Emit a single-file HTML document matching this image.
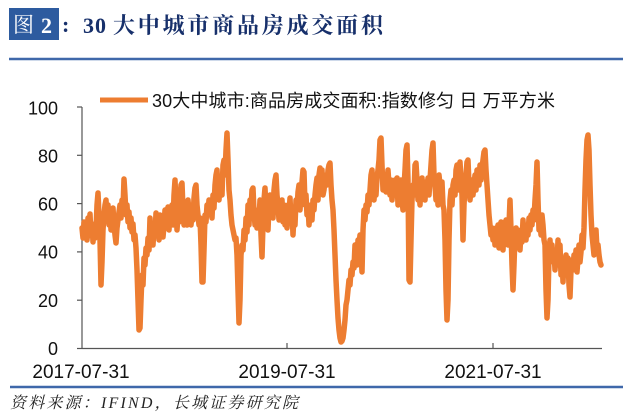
<!DOCTYPE html>
<html><head><meta charset="utf-8"><style>
html,body{margin:0;padding:0;background:#fff;}
body{width:640px;height:417px;overflow:hidden;}
svg{display:block;}
</style></head><body>
<svg width="640" height="417" viewBox="0 0 640 417" xmlns="http://www.w3.org/2000/svg">
<rect x="0" y="0" width="640" height="417" fill="#fff"/>
<!-- title -->
<rect x="9" y="8" width="50" height="32" fill="#2d5b9f"/>
<text x="13" y="32" font-family="'Liberation Serif','Noto Serif CJK SC',serif" font-size="21" fill="#fff">图</text>
<text x="41" y="33" font-family="'Liberation Serif',serif" font-size="22" font-weight="bold" fill="#fff">2</text>
<text x="62" y="32" font-family="'Liberation Serif',serif" font-size="22" font-weight="bold" fill="#17306b">:</text>
<text x="83" y="33" font-family="'Liberation Serif',serif" font-size="22" font-weight="bold" fill="#17306b" letter-spacing="1">30</text>
<text x="113" y="33" font-family="'Liberation Serif','Noto Serif CJK SC',serif" font-size="22" font-weight="bold" fill="#17306b" textLength="270" lengthAdjust="spacing">大中城市商品房成交面积</text>
<line x1="9" y1="59" x2="623" y2="59" stroke="#3f68aa" stroke-width="2.5"/>
<!-- legend -->
<line x1="100" y1="100" x2="148" y2="100" stroke="#ed7d31" stroke-width="5"/>
<text x="152" y="107" font-family="'Liberation Sans','Noto Sans CJK SC',sans-serif" font-size="18" fill="#111" textLength="403" lengthAdjust="spacing">30大中城市:商品房成交面积:指数修匀 日 万平方米</text>
<!-- axes -->
<g stroke="#555" stroke-width="1.2" fill="none">
<line x1="82" y1="107" x2="82" y2="348.5"/>
<line x1="82" y1="348.5" x2="602" y2="348.5"/>
<line x1="77" y1="107" x2="82" y2="107"/>
<line x1="77" y1="155.3" x2="82" y2="155.3"/>
<line x1="77" y1="203.6" x2="82" y2="203.6"/>
<line x1="77" y1="251.9" x2="82" y2="251.9"/>
<line x1="77" y1="300.2" x2="82" y2="300.2"/>
<line x1="77" y1="348.5" x2="82" y2="348.5"/>
<line x1="287" y1="343" x2="287" y2="348.5"/>
<line x1="493" y1="343" x2="493" y2="348.5"/>
</g>
<g font-family="'Liberation Sans',sans-serif" font-size="18" fill="#111" text-anchor="end">
<text x="58" y="114.5">100</text>
<text x="58" y="162.5">80</text>
<text x="58" y="210.5">60</text>
<text x="58" y="258.5">40</text>
<text x="58" y="307">20</text>
<text x="58" y="355">0</text>
</g>
<g font-family="'Liberation Sans',sans-serif" font-size="19" fill="#111" text-anchor="middle">
<text x="81" y="378">2017-07-31</text>
<text x="287" y="378">2019-07-31</text>
<text x="493" y="378">2021-07-31</text>
</g>
<!-- series -->
<polyline fill="none" stroke="#ed7d31" stroke-width="5.5" stroke-linejoin="round" stroke-linecap="round" points="82,228 83,238 84,222 85,235 86,226 87,240 88,218 89,232 90,214 91,236 92,224 93,242 94,225 95,238 96,230 97,205 98,193 99,215 100,240 101,285 102,262 103,230 104,215 105,205 106,200 107,218 108,205 109,225 110,210 111,230 112,212 113,208 114,225 115,235 116,243 117,228 118,220 119,212 120,205 121,218 122,200 123,210 124,179 125,195 126,215 127,205 128,222 129,212 130,228 131,218 132,232 133,224 134,240 135,235 136,248 137,270 138,300 139,330 140,328 141,300 142,275 143,285 144,258 145,265 146,248 147,255 148,238 149,250 150,218 151,240 152,232 153,245 154,228 155,235 156,213 157,230 158,222 159,240 160,215 161,232 162,222 163,237 164,226 165,210 166,225 167,218 168,207 169,230 170,212 171,220 172,205 173,225 174,195 175,180 176,205 177,230 178,215 179,222 180,200 181,185 182,183 183,210 184,225 185,205 186,218 187,225 188,200 189,212 190,205 191,225 192,215 193,220 194,198 195,188 196,185 197,205 198,215 199,225 200,218 201,245 202,282 203,282 204,250 205,215 206,222 207,205 208,212 209,200 210,215 211,205 212,218 213,195 214,208 215,185 216,175 217,170 218,190 219,200 220,185 221,178 222,195 223,165 224,160 225,175 226,150 227,133 228,160 229,190 230,200 231,215 232,225 233,230 234,235 235,240 236,238 237,255 238,290 239,323 240,300 241,255 242,245 243,250 244,230 245,240 246,218 247,232 248,205 249,225 250,200 251,210 252,190 253,188 254,212 255,225 256,215 257,228 258,210 259,220 260,200 261,235 262,257 263,225 264,200 265,188 266,210 267,215 268,230 269,205 270,195 271,215 272,205 273,218 274,190 275,180 276,175 277,195 278,205 279,220 280,208 281,215 282,200 283,222 284,205 285,225 286,210 287,228 288,205 289,215 290,198 291,220 292,210 293,235 294,215 295,225 296,200 297,210 298,192 299,185 300,210 301,195 302,182 303,170 304,172 305,205 306,195 307,215 308,205 309,225 310,215 311,205 312,220 313,200 314,210 315,195 316,185 317,178 318,200 319,175 320,168 321,185 322,170 323,195 324,190 325,180 326,175 327,185 328,170 329,165 330,163 331,185 332,200 333,210 334,230 335,255 336,280 337,300 338,318 339,330 340,338 341,342 342,341 343,338 344,330 345,320 346,305 347,300 348,290 349,280 350,285 351,270 352,275 353,262 354,268 355,245 356,250 357,265 358,240 359,245 360,235 361,250 362,272 363,230 364,210 365,220 366,205 367,212 368,195 369,205 370,190 371,175 372,170 373,190 374,200 375,185 376,195 377,178 378,170 379,160 380,140 381,138 382,165 383,190 384,180 385,175 386,192 387,182 388,170 389,185 390,195 391,180 392,200 393,188 394,195 395,180 396,190 397,178 398,205 399,195 400,182 401,180 402,200 403,210 404,188 405,170 406,150 407,145 408,180 409,280 410,282 411,240 412,200 413,185 414,195 415,165 416,163 417,180 418,200 419,190 420,205 421,185 422,178 423,195 424,185 425,200 426,182 427,190 428,178 429,195 430,180 431,165 432,150 433,143 434,175 435,185 436,200 437,190 438,205 439,175 440,185 441,195 442,182 443,205 444,210 445,240 446,290 447,320 448,300 449,240 450,200 451,190 452,205 453,185 454,180 455,195 456,170 457,165 458,190 459,175 460,162 461,180 462,195 463,240 464,205 465,185 466,175 467,162 468,160 469,185 470,200 471,190 472,180 473,195 474,185 475,175 476,190 477,170 478,175 479,185 480,165 481,180 482,168 483,160 484,152 485,150 486,170 487,185 488,200 489,215 490,225 491,235 492,228 493,240 494,232 495,245 496,228 497,240 498,225 499,248 500,232 501,222 502,240 503,250 504,228 505,240 506,220 507,235 508,245 509,225 510,200 511,230 512,265 513,290 514,265 515,235 516,228 517,245 518,230 519,240 520,250 521,232 522,242 523,220 524,235 525,228 526,240 527,225 528,235 529,218 530,230 531,215 532,225 533,210 534,220 535,200 536,185 537,162 538,200 539,230 540,220 541,235 542,215 543,225 544,240 545,245 546,290 547,318 548,300 549,255 550,240 551,258 552,245 553,262 554,250 555,270 556,255 557,265 558,240 559,262 560,245 561,275 562,258 563,282 564,260 565,270 566,255 567,275 568,258 569,285 570,297 571,270 572,260 573,270 574,255 575,265 576,250 577,272 578,258 579,245 580,262 581,252 582,235 583,248 584,228 585,190 586,160 587,140 588,135 589,150 590,185 591,215 592,235 593,245 594,255 595,240 596,230 597,250 598,245 599,255 600,262 601,265"/>
<!-- bottom -->
<line x1="10" y1="387" x2="623" y2="387" stroke="#3f68aa" stroke-width="2.5"/>
<text x="10" y="408" font-family="'Liberation Serif','Noto Serif CJK SC',serif" font-size="16" font-style="italic" fill="#222" textLength="288" lengthAdjust="spacing">资料来源：IFIND，长城证券研究院</text>
</svg>
</body></html>
